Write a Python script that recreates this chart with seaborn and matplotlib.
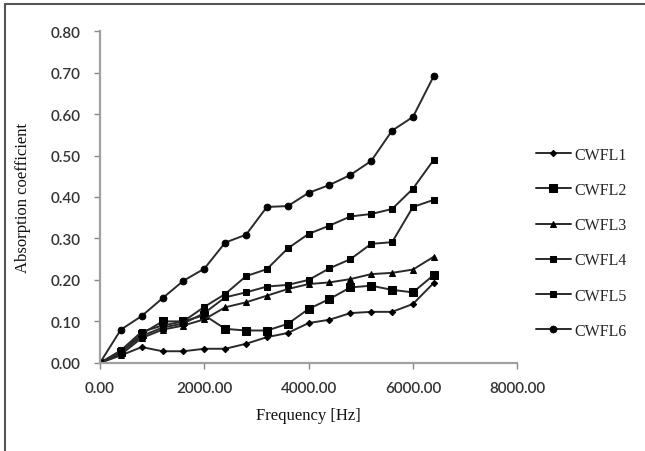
import matplotlib
matplotlib.use("Agg")
import matplotlib.pyplot as plt
from matplotlib.lines import Line2D
import numpy as np
import pandas as pd
import seaborn as sns

freq = [0, 400, 800, 1200, 1600, 2000, 2400, 2800, 3200, 3600,
        4000, 4400, 4800, 5200, 5600, 6000, 6400]

cwfl1 = [0.0, 0.018, 0.038, 0.028, 0.028, 0.034, 0.034, 0.046, 0.062, 0.072,
         0.096, 0.104, 0.120, 0.123, 0.123, 0.142, 0.193]
cwfl2 = [0.0, 0.025, 0.070, 0.100, 0.100, 0.115, 0.082, 0.078, 0.078, 0.094,
         0.130, 0.154, 0.182, 0.186, 0.176, 0.170, 0.212]
cwfl3 = [0.0, 0.020, 0.060, 0.080, 0.090, 0.105, 0.134, 0.146, 0.162, 0.178,
         0.190, 0.194, 0.202, 0.214, 0.217, 0.225, 0.256]
cwfl4 = [0.0, 0.025, 0.065, 0.085, 0.095, 0.120, 0.158, 0.170, 0.184, 0.188,
         0.200, 0.228, 0.250, 0.287, 0.291, 0.376, 0.393]
cwfl5 = [0.0, 0.030, 0.075, 0.090, 0.100, 0.135, 0.166, 0.209, 0.226, 0.276,
         0.311, 0.331, 0.353, 0.359, 0.371, 0.420, 0.490]
cwfl6 = [0.0, 0.080, 0.113, 0.156, 0.198, 0.227, 0.290, 0.309, 0.376, 0.378,
         0.410, 0.429, 0.453, 0.487, 0.560, 0.593, 0.692]

names = ["CWFL1", "CWFL2", "CWFL3", "CWFL4", "CWFL5", "CWFL6"]
series = [cwfl1, cwfl2, cwfl3, cwfl4, cwfl5, cwfl6]

x_ticks = [0, 2000, 4000, 6000, 8000]
y_ticks = [0.0, 0.1, 0.2, 0.3, 0.4, 0.5, 0.6, 0.7, 0.8]

df = pd.DataFrame({
    "Frequency": np.tile(freq, len(names)),
    "Absorption": np.concatenate(series),
    "Sample": np.repeat(names, len(freq)),
})

sns.set_style("white")
plt.rcParams["font.family"] = ["Liberation Serif", "DejaVu Serif"]

fig = plt.figure(figsize=(6.45, 4.52), dpi=100)
ax = fig.add_axes([0.155, 0.195, 0.647, 0.734])

markers = {"CWFL1": "D", "CWFL2": "s", "CWFL3": "^",
           "CWFL4": "s", "CWFL5": "s", "CWFL6": "o"}
sizes = {"CWFL1": 3.2, "CWFL2": 5.5, "CWFL3": 4.5, "CWFL4": 4.0, "CWFL5": 4.5, "CWFL6": 4.8}

for name in names:
    sub = df[df["Sample"] == name]
    sns.lineplot(data=sub, x="Frequency", y="Absorption", ax=ax,
                 color="#2a2a2a", linewidth=1.4, marker=markers[name],
                 markersize=sizes[name], markeredgecolor="black",
                 markerfacecolor="black", label=name)

ax.set_xlim(0, 8000)
ax.set_ylim(0, 0.8)
ax.set_xticks(x_ticks)
ax.set_yticks(y_ticks)
tick_font = {"family": ["Lato", "DejaVu Sans"], "size": 11, "weight": "semibold"}
ax.set_xticklabels([f"{v:.2f}" for v in x_ticks], fontdict=tick_font, color="#333333")
ax.set_yticklabels([f"{v:.2f}" for v in y_ticks], fontdict=tick_font, color="#333333")
ax.tick_params(axis="both", direction="out", length=4, width=1, color="#888888",
               left=True, bottom=True)
ax.tick_params(axis="x", pad=9)
ax.tick_params(axis="y", pad=10)

for side in ["top", "right"]:
    ax.spines[side].set_visible(False)
for side in ["left", "bottom"]:
    ax.spines[side].set_color("#a0a0a0")
    ax.spines[side].set_linewidth(1.6)

ax.set_xlabel("Frequency [Hz]", fontsize=12, color="#111111", labelpad=9)
ax.set_ylabel("Absorption coefficient", fontsize=12, color="#111111", labelpad=14)

leg = ax.legend(loc="center left", bbox_to_anchor=(1.01, 0.362), frameon=False,
                fontsize=11.5, labelspacing=1.2, handlelength=2.2,
                handletextpad=0.2)

# outer frame of the figure
fig.add_artist(Line2D([0.007, 1.0], [0.989, 0.989], transform=fig.transFigure,
                      color="#555555", linewidth=1.5))
fig.add_artist(Line2D([0.007, 0.007], [0.0, 0.989], transform=fig.transFigure,
                      color="#555555", linewidth=1.5))

fig.savefig("out.png", dpi=100)
